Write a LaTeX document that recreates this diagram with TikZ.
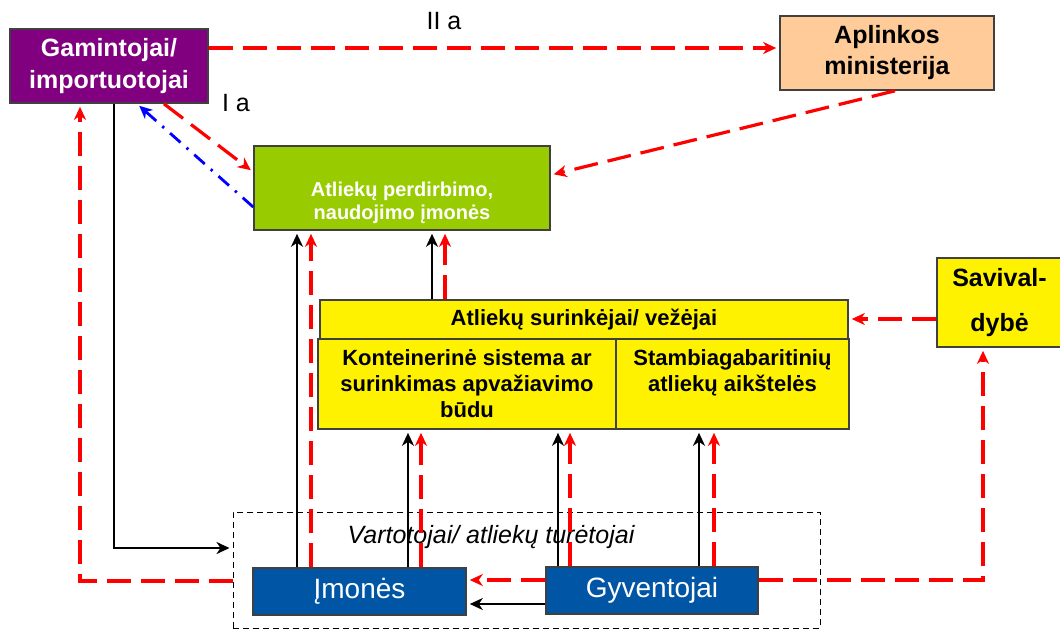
\documentclass[tikz,border=0pt]{standalone}
\usepackage{fontspec}
\setmainfont{Liberation Sans}
\usetikzlibrary{arrows.meta}

\definecolor{purplebox}{HTML}{800080}
\definecolor{peachbox}{HTML}{FFCC99}
\definecolor{greenbox}{HTML}{99CC00}
\definecolor{bluebox}{HTML}{0055A5}

\tikzset{
  box/.style={draw=black!75, line width=0.8pt, align=center, inner sep=0pt},
  tip/.style={-{Stealth[length=6.5pt,width=6pt,inset=2pt]}, shorten >=1.5pt},
  reddash/.style={tip, red, line width=1.6pt, dash pattern=on 12pt off 5pt},
  blackline/.style={tip, black, line width=1.4pt},
  bluedot/.style={tip, blue, line width=1.4pt, dash pattern=on 7pt off 4pt on 1.2pt off 4pt}
}

\begin{document}
\begin{tikzpicture}[x=0.5pt, y=-0.5pt, font=\bfseries]
      \useasboundingbox (0,0) rectangle (1060,629);

      % boxes
      \node[box, fill=purplebox, text=white, minimum width=99pt, minimum height=37pt,
            font=\bfseries\fontsize{12.5}{16}\selectfont] (gamin) at (109,66) {Gamintojai/\\importuotojai};
      \node[box, fill=peachbox, minimum width=107pt, minimum height=37pt,
            font=\bfseries\fontsize{12.5}{15.5}\selectfont] (aplink) at (887,53) {Aplinkos\\ministerija};
      \node[box, fill=greenbox, text=white, minimum width=148pt, minimum height=42pt,
            font=\bfseries\fontsize{10}{11.5}\selectfont] (perdirb) at (402,188) {\rule{0pt}{22pt}Atliekų perdirbimo,\\naudojimo įmonės};
      \node[box, fill=yellow, minimum width=264pt, minimum height=19.5pt,
            font=\bfseries\fontsize{11}{12}\selectfont] (surink) at (584,319.5) {Atliekų surinkėjai/ vežėjai};
      \node[box, fill=yellow, minimum width=149pt, minimum height=45pt,
            font=\bfseries\fontsize{11}{13}\selectfont] (konten) at (467,384) {Konteinerinė sistema ar\\surinkimas apvažiavimo\\būdu};
      \node[box, fill=yellow, minimum width=116.5pt, minimum height=45pt,
            font=\bfseries\fontsize{11}{13}\selectfont] (stamb) at (732.5,384) {Stambiagabaritinių\\atliekų aikštelės\\\mbox{}};
      \node[box, fill=yellow, minimum width=62.5pt, minimum height=44.5pt,
            font=\bfseries\fontsize{12.5}{22.5}\selectfont] (saviv) at (999.5,302.5) {Savival-\\dybė};
      \node[draw, line width=0.5pt, dash pattern=on 3pt off 2pt, minimum width=293.5pt,
            minimum height=58pt, inner sep=0pt] (holders) at (526.5,570) {};
      \node[font=\itshape\fontsize{12.5}{14}\selectfont] (holderslabel) at (491,537) {Vartotojai/ atliekų turėtojai};
      \node[box, fill=bluebox, text=white, minimum width=106.5pt, minimum height=23.5pt,
            font=\fontsize{14}{16}\selectfont] (imones) at (359.5,591.5) {Įmonės};
      \node[box, fill=bluebox, text=white, minimum width=106pt, minimum height=23.5pt,
            font=\fontsize{14}{16}\selectfont] (gyvent) at (652,590.5) {Gyventojai};

      \node[font=\fontsize{12.5}{14}\selectfont] (labelIIa) at (444,21) {II a};
      \node[font=\fontsize{12.5}{14}\selectfont] (labelIa) at (236,103) {I a};

      % connectors
      \draw[reddash] (gamin.east |- 0,48) -- (aplink.west |- 0,48);
      \draw[reddash] (aplink.south -| 895,0) -- (perdirb.east |- 0,175);
      \draw[reddash] (gamin.south -| 164,0) -- (perdirb.west |- 0,172);
      \draw[bluedot] (perdirb.west |- 0,207) -- (gamin.south -| 137,0);
      \draw[blackline] (gamin.south -| 114,0) |- (holders.west |- 0,548);
      \draw[reddash] (holders.west |- 0,581) -| (gamin.south -| 80,0);

      \draw[blackline] (imones.north -| 297,0) -- (perdirb.south -| 297,0);
      \draw[reddash] (imones.north -| 311,0) -- (perdirb.south -| 311,0);
      \draw[blackline] (surink.north -| 432,0) -- (perdirb.south -| 432,0);
      \draw[reddash] (surink.north -| 445,0) -- (perdirb.south -| 445,0);

      \draw[blackline] (imones.north -| 408,0) -- (konten.south -| 408,0);
      \draw[reddash] (imones.north -| 421,0) -- (konten.south -| 421,0);
      \draw[blackline] (gyvent.north -| 558,0) -- (konten.south -| 558,0);
      \draw[reddash] (gyvent.north -| 570,0) -- (konten.south -| 570,0);
      \draw[blackline] (gyvent.north -| 699,0) -- (stamb.south -| 699,0);
      \draw[reddash] (gyvent.north -| 714,0) -- (stamb.south -| 714,0);

      \draw[reddash] (gyvent.west |- 0,580) -- (imones.east |- 0,580);
      \draw[blackline] (gyvent.west |- 0,604) -- (imones.east |- 0,604);
      \draw[reddash] (gyvent.east |- 0,580) -| (saviv.south -| 983,0);
      \draw[reddash] (saviv.west |- 0,319) -- (surink.east |- 0,319);
\end{tikzpicture}
\end{document}
